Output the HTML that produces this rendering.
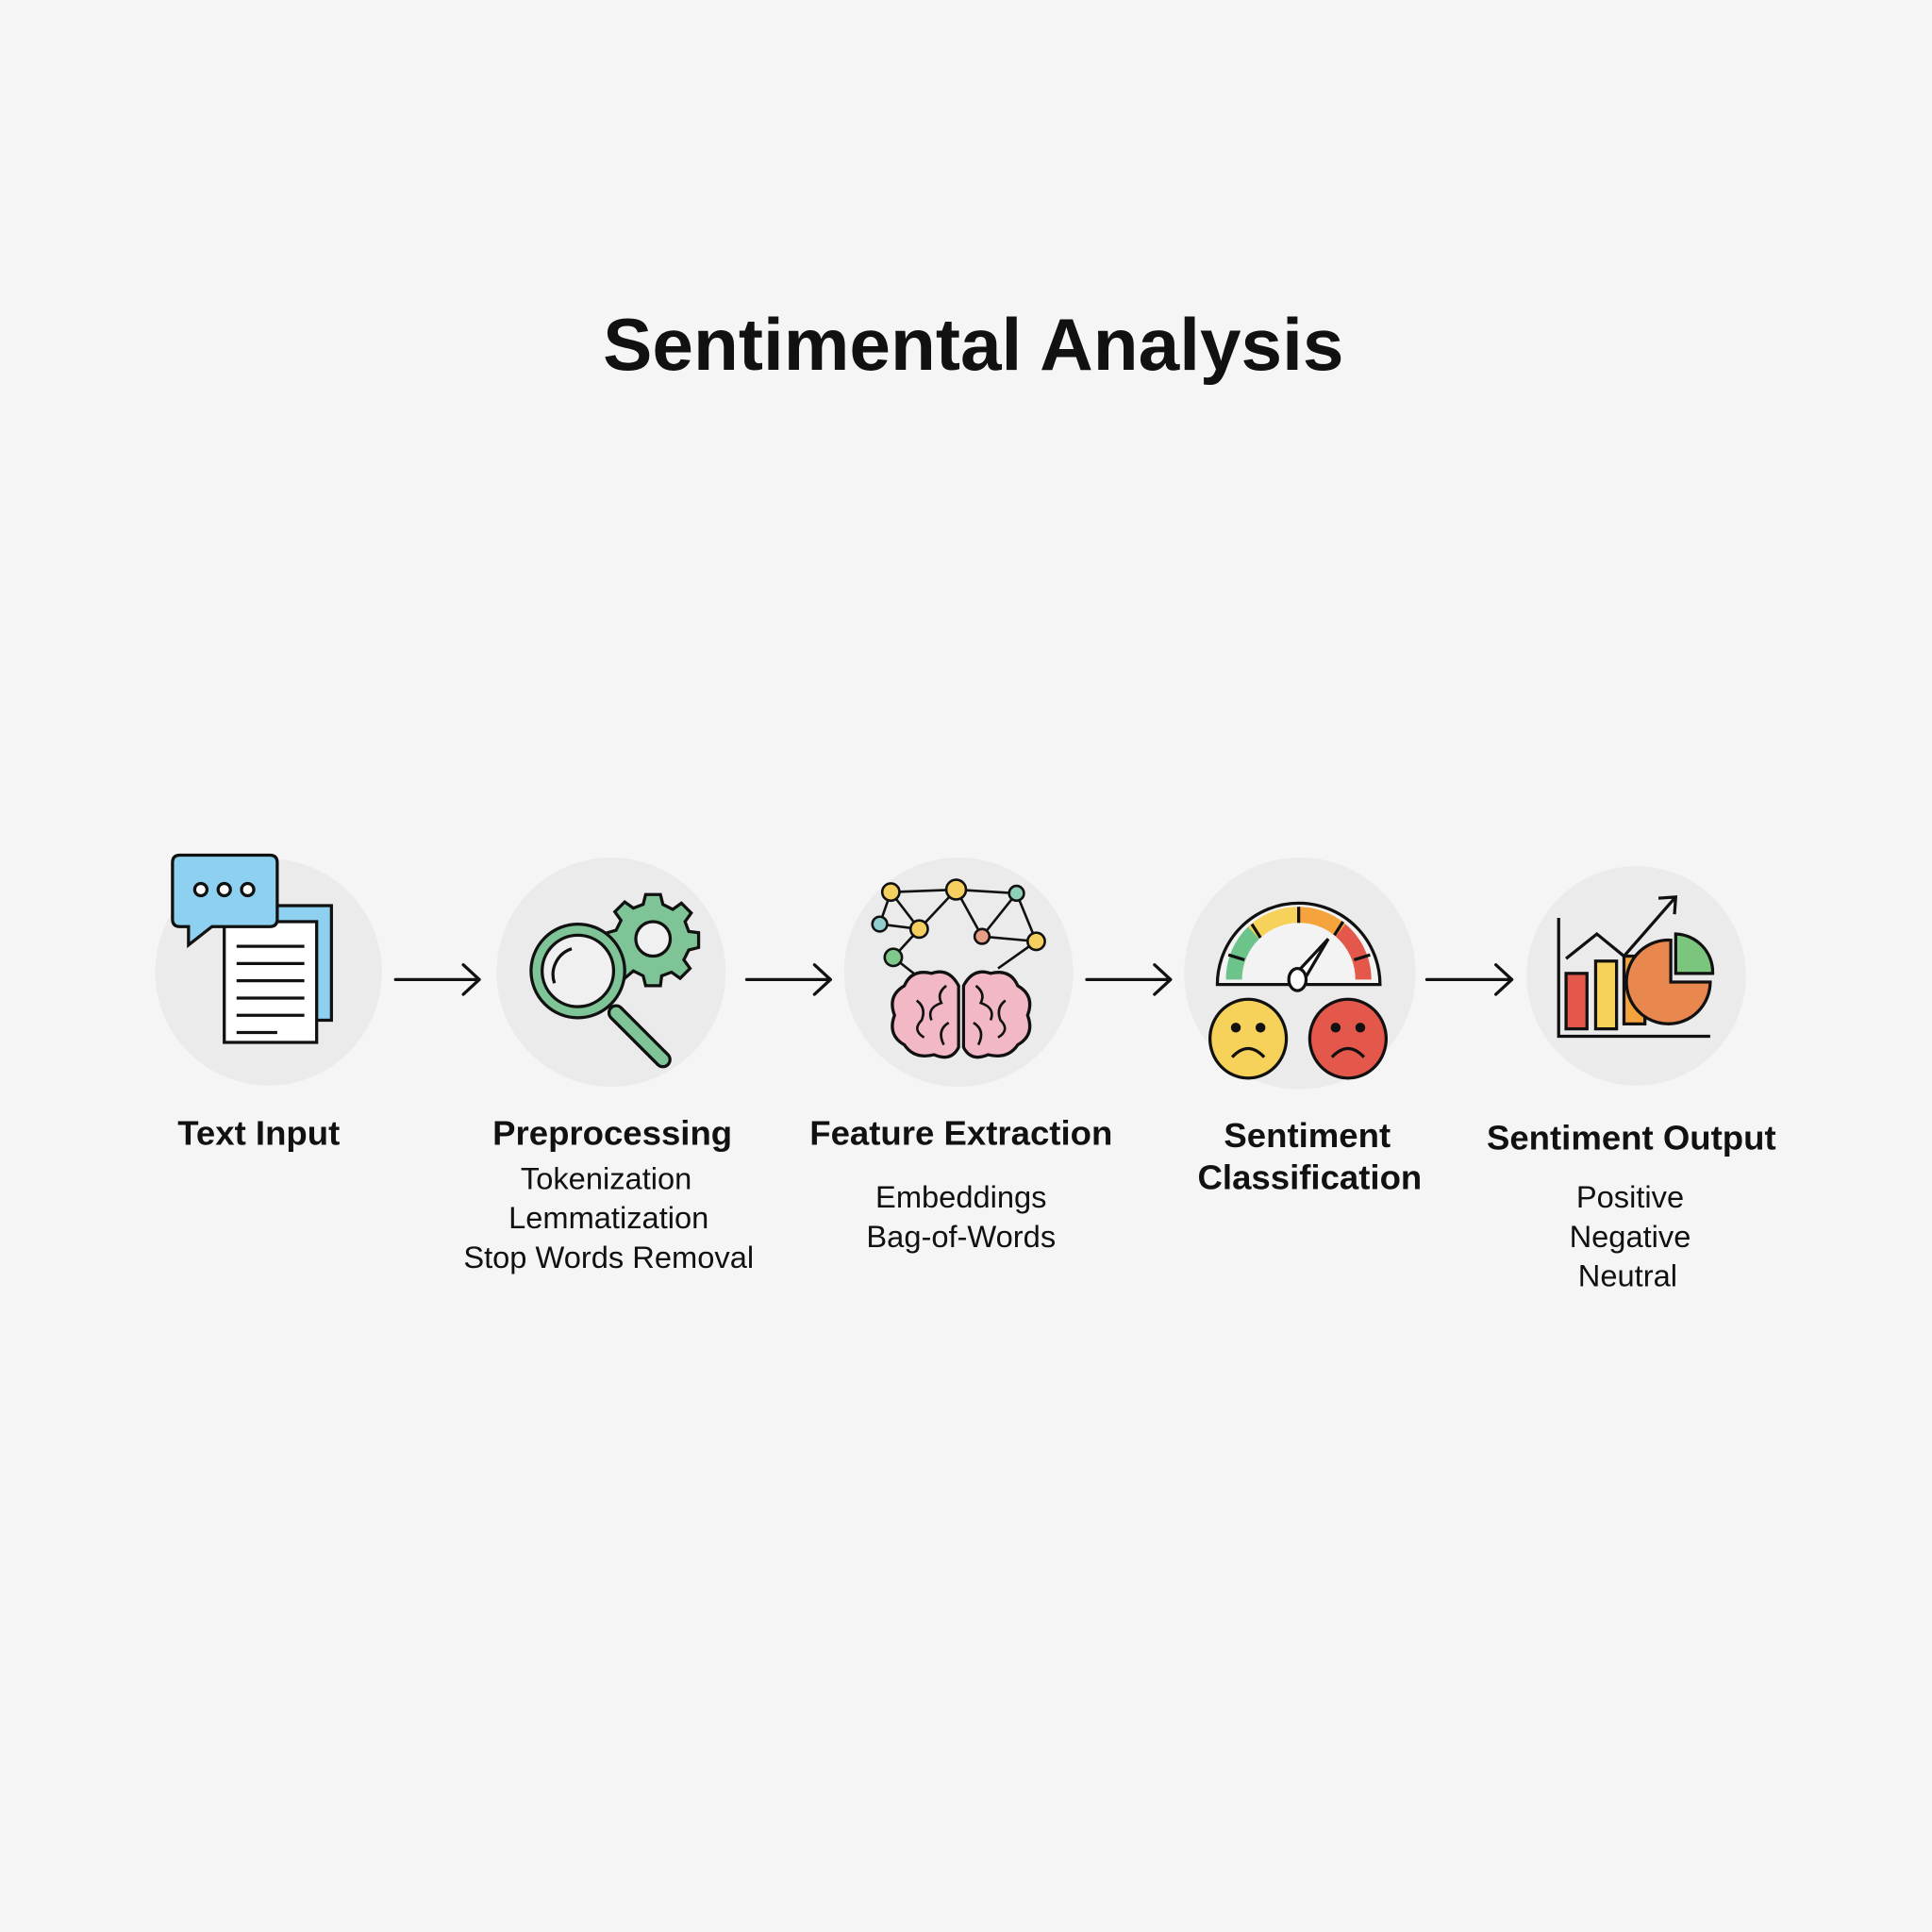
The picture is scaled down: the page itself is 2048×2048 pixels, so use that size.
<!DOCTYPE html>
<html><head><meta charset="utf-8"><style>
html,body{margin:0;padding:0;background:#f5f5f5;}
svg{display:block;}
text{font-family:"Liberation Sans",sans-serif;fill:#111;}
</style></head><body>
<svg width="2048" height="2048" viewBox="0 0 1568 1568" xmlns="http://www.w3.org/2000/svg">
<rect width="1568" height="1568" fill="#f5f5f5"/>
<text x="790" y="300" font-size="60" font-weight="bold" text-anchor="middle">Sentimental Analysis</text>

<g fill="#ebebeb">
<circle cx="218" cy="789" r="92"/>
<circle cx="496" cy="789" r="93"/>
<circle cx="778" cy="789" r="93"/>
<circle cx="1055" cy="790" r="94"/>
<circle cx="1328" cy="792" r="89"/>
</g>

<g stroke="#111" stroke-width="2.5" fill="none" stroke-linecap="round" stroke-linejoin="round">
<path d="M321 795H389M376 783L389 795L376 807"/>
<path d="M606 795H674M661 783L674 795L661 807"/>
<path d="M882 795H950M937 783L950 795L937 807"/>
<path d="M1158 795H1227M1214 783L1227 795L1214 807"/>
</g>

<!-- Text input icon -->
<g stroke="#111" stroke-width="2.5">
<rect x="223" y="735" width="46" height="93" fill="#8ed0ef"/>
<rect x="182" y="748" width="75" height="98" fill="#fff"/>
<path d="M146 694H219Q225 694 225 700V746Q225 752 219 752H172L153 767V752H146Q140 752 140 746V700Q140 694 146 694Z" fill="#8ed0ef"/>
<circle cx="163" cy="722" r="5" fill="#fff"/>
<circle cx="182" cy="722" r="5" fill="#fff"/>
<circle cx="201" cy="722" r="5" fill="#fff"/>
<path d="M192 768H247M192 782H247M192 796H247M192 810H247M192 824H247M192 838H225" fill="none"/>
</g>

<!-- Magnifier + gear -->
<g stroke="#111" stroke-width="2.5">
<g transform="translate(530 758)" fill="#7fc496">
<path d="M-6 -32H6L8 -24L16 -20L23 -25L31 -17L26 -10L29 -2L37 -1V11L29 13L25 21L30 28L22 36L15 31L7 34L6 42H-6L-8 34L-16 30L-23 36L-31 28L-26 21L-30 13L-37 11V-1L-30 -3L-26 -11L-31 -18L-23 -26L-16 -21L-8 -24Z" transform="scale(1.0)"/>
<circle cx="0" cy="4" r="14" fill="#f0f0f0"/>
</g>
<path d="M500 822L538 860" stroke="#111" stroke-width="14" stroke-linecap="round"/>
<path d="M500 822L538 860" stroke="#7fc496" stroke-width="9" stroke-linecap="round"/>
<circle cx="469" cy="788" r="38" fill="#7fc496"/>
<circle cx="469" cy="788" r="29" fill="#f0f0f0"/>
<path d="M450 798A22 22 0 0 1 464 770" fill="none"/>
</g>

<!-- Network + brain -->
<g stroke="#111" stroke-width="2" fill="none">
<path d="M723 724L776 722L825 725M723 724L746 754L776 722L797 760L825 725L841 764M714 750L746 754L725 777M723 724L714 750M797 760L841 764M725 777L748 795M841 764L810 786"/>
</g>
<g stroke="#111" stroke-width="2.5">
<path d="M778 800Q770 785 756 790Q740 786 734 800Q720 808 726 824Q720 840 734 848Q742 860 758 856Q772 862 778 850Z" fill="#f2b8c6"/>
<path d="M782 800Q790 785 804 790Q820 786 826 800Q840 808 834 824Q840 840 826 848Q818 860 802 856Q788 862 782 850Z" fill="#f2b8c6"/>
<path d="M768 800Q760 806 764 814Q752 818 756 828M744 812Q752 818 748 828Q740 836 750 842M770 830Q760 836 766 848M792 800Q800 806 796 814Q808 818 804 828M816 812Q808 818 812 828Q820 836 810 842M790 830Q800 836 794 848" fill="none" stroke-width="2"/>
</g>
<g stroke="#111" stroke-width="2">
<circle cx="723" cy="724" r="7" fill="#f5cf5f"/>
<circle cx="776" cy="722" r="8" fill="#f5cf5f"/>
<circle cx="825" cy="725" r="6" fill="#8fd0b6"/>
<circle cx="714" cy="750" r="6" fill="#8fd0cf"/>
<circle cx="746" cy="754" r="7" fill="#f5cf5f"/>
<circle cx="797" cy="760" r="6" fill="#e89f85"/>
<circle cx="841" cy="764" r="7" fill="#f5cf5f"/>
<circle cx="725" cy="777" r="7" fill="#7fc98b"/>
</g>

<!-- Gauge -->
<g stroke="#111" stroke-width="2.5">
<path d="M988 799A66 66 0 0 1 1120 799Z" fill="#f3f3f3"/>
<path d="M995 795A59 59 0 0 1 1013 752L1022 762A46 46 0 0 0 1008 795Z" fill="#6cc48a" stroke="none"/>
<path d="M1013 752A59 59 0 0 1 1054 736L1054 749A46 46 0 0 0 1022 762Z" fill="#f6d25a" stroke="none"/>
<path d="M1054 736A59 59 0 0 1 1092 750L1084 760A46 46 0 0 0 1054 749Z" fill="#f5a33d" stroke="none"/>
<path d="M1092 750A59 59 0 0 1 1113 795L1100 795A46 46 0 0 0 1084 760Z" fill="#e4574b" stroke="none"/>
<path d="M997 775L1010 779M1016 750L1023 761M1054 736V749M1090 748L1083 759M1112 775L1099 779" fill="none"/>
<path d="M1050 792L1078 762L1058 796Z" fill="#fff"/>
<ellipse cx="1053" cy="795" rx="7" ry="9" fill="#fff"/>
<ellipse cx="1013" cy="843" rx="31" ry="32" fill="#f6d25a"/>
<ellipse cx="1094" cy="843" rx="31" ry="32" fill="#e4574b"/>
</g>
<g fill="#111">
<circle cx="1003" cy="834" r="4"/><circle cx="1023" cy="834" r="4"/>
<circle cx="1084" cy="834" r="4"/><circle cx="1104" cy="834" r="4"/>
</g>
<path d="M1000 858Q1013 844 1026 858M1081 858Q1094 844 1107 858" stroke="#111" stroke-width="2.5" fill="none"/>

<!-- Chart -->
<g stroke="#111" stroke-width="2.5">
<rect x="1271" y="790" width="17" height="45" fill="#e4574b"/>
<rect x="1295" y="780" width="17" height="55" fill="#f6d25a"/>
<rect x="1318" y="776" width="17" height="55" fill="#f5a33d"/>
<path d="M1356 797V763A34 34 0 1 0 1388 797Z" fill="#e8884f"/>
<path d="M1360 790V758A31 31 0 0 1 1390 790Z" fill="#7cc57f"/>
<path d="M1265 745V841H1388M1271 778L1296 758L1318 776L1360 728M1346 729L1360 728L1359 742" fill="none"/>
</g>

<g text-anchor="middle">
<text x="210" y="929" font-size="28" font-weight="bold">Text Input</text>
<text x="497" y="929" font-size="28" font-weight="bold">Preprocessing</text>
<text x="492" y="965" font-size="25">Tokenization</text>
<text x="494" y="997" font-size="25">Lemmatization</text>
<text x="494" y="1029" font-size="25">Stop Words Removal</text>
<text x="780" y="929" font-size="28" font-weight="bold">Feature Extraction</text>
<text x="780" y="980" font-size="25">Embeddings</text>
<text x="780" y="1012" font-size="25">Bag-of-Words</text>
<text x="1061" y="931" font-size="28" font-weight="bold">Sentiment</text>
<text x="1063" y="965" font-size="28" font-weight="bold">Classification</text>
<text x="1324" y="933" font-size="28" font-weight="bold">Sentiment Output</text>
<text x="1323" y="980" font-size="25">Positive</text>
<text x="1323" y="1012" font-size="25">Negative</text>
<text x="1321" y="1044" font-size="25">Neutral</text>
</g>
</svg>
</body></html>
